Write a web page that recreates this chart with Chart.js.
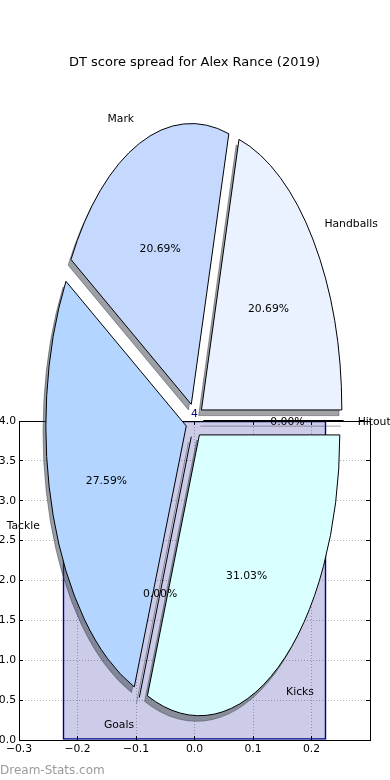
<!DOCTYPE html>
<html>
<head>
<meta charset="utf-8">
<title>DT score spread for Alex Rance (2019)</title>
<script src="https://cdn.jsdelivr.net/npm/chart.js@4.4.0/dist/chart.umd.min.js"></script>
<style>
  html, body { margin: 0; padding: 0; background: #fff; }
  #wrap { position: relative; width: 390px; height: 780px; }
  #wrap canvas { position: absolute; left: 0; top: 0; }
</style>
</head>
<body>
<div id="wrap">
  <canvas id="bars" width="390" height="780"></canvas>
  <canvas id="pie" width="390" height="780"></canvas>
</div>
<script>
// pie slices, in matplotlib order (counter-clockwise from 3 o'clock)
const categories = ['Handballs', 'Mark', 'Tackle', 'Goals', 'Kicks', 'Hitout'];
const scoreCounts = [6, 6, 8, 0, 9, 0];
const sliceColors = ['#eaf1ff', '#c5d9ff', '#b3d5ff', '#cfe3ff', '#d9ffff', '#e3eeff'];
const explode = [0.062, 0.062, 0.062, 0.062, 0.062, 0.062];

// the single bar sitting behind the pie
const barX = [0];
const barHeights = [4];
const barWidth = 0.45;

const xTicks = [-0.3, -0.2, -0.1, 0.0, 0.1, 0.2, 0.3];
const xTickLabels = ['\u22120.3', '\u22120.2', '\u22120.1', '0.0', '0.1', '0.2', ''];
const yTicks = [0, 0.5, 1, 1.5, 2, 2.5, 3, 3.5, 4];
const yTickLabels = ['0.0', '0.5', '1.0', '1.5', '2.0', '2.5', '3.0', '3.5', '4.0'];

const squash = 2;          // pie axes is twice as tall as wide -> ellipse
const shadowShift = 0.02;  // matplotlib Shadow(-0.02, -0.02), radius units

Chart.defaults.font.family = '"DejaVu Sans"';
Chart.defaults.font.size = 10.8;
Chart.defaults.color = '#000';

// strokes are done in the unscaled space so edges stay 1px all round
function flatStroke(ctx, base) {
  return new Proxy(ctx, {
    get(t, p) {
      if (p === 'stroke') return () => { t.save(); t.setTransform(base); t.stroke(); t.restore(); };
      const v = t[p];
      return typeof v === 'function' ? v.bind(t) : v;
    },
    set(t, p, v) { t[p] = v; return true; }
  });
}

function shadowOf(hex) {
  const n = parseInt(hex.slice(1), 16);
  const r = (n >> 16) & 255, g = (n >> 8) & 255, b = n & 255;
  return `rgba(${Math.round(r * 0.3)},${Math.round(g * 0.3)},${Math.round(b * 0.3)},0.5)`;
}

function drawWedge(ctx, arc, expl, fill, edge) {
  const mid = (arc.startAngle + arc.endAngle) / 2;
  const r = arc.outerRadius;
  ctx.translate(Math.cos(mid) * expl * r, Math.sin(mid) * expl * r);
  if (arc.circumference > 0) {
    const twin = Object.create(arc);
    twin.options = Object.assign({}, arc.options, { backgroundColor: fill, borderColor: edge });
    arc.draw.call(twin, ctx);
  } else {
    // empty slice: matplotlib still draws its edge as a line
    ctx.beginPath();
    ctx.moveTo(arc.x, arc.y);
    ctx.lineTo(arc.x + Math.cos(mid) * r, arc.y + Math.sin(mid) * r);
    ctx.lineWidth = arc.options.borderWidth;
    ctx.strokeStyle = edge;
    ctx.stroke();
  }
}

const squashedPie = {
  id: 'squashedPie',
  beforeDatasetsDraw(chart) {
    const ctx = chart.ctx;
    const arcs = chart.getDatasetMeta(0).data;
    const { x: cx, y: cy, outerRadius: r } = arcs[0];
    const pen = flatStroke(ctx, ctx.getTransform());
    const order = arcs.map((a, i) => i).reverse();

    const pass = shadow => order.forEach(i => {
      const k = categories.length - 1 - i;
      ctx.save();
      if (shadow) ctx.translate(-shadowShift * r, shadowShift * r * squash);
      ctx.translate(cx, cy);
      ctx.scale(1, squash);
      ctx.translate(-cx, -cy);
      const col = shadow ? shadowOf(sliceColors[k]) : sliceColors[k];
      drawWedge(pen, arcs[i], explode[k], col, shadow ? col : '#000');
      ctx.restore();
    });
    pass(true);
    pass(false);
    return false;
  },
  afterDraw(chart) {
    const ctx = chart.ctx;
    const arcs = chart.getDatasetMeta(0).data;
    const { x: cx, y: cy, outerRadius: r } = arcs[0];
    const total = scoreCounts.reduce((s, v) => s + v, 0);
    ctx.save();
    ctx.font = '10.8px "DejaVu Sans"';
    ctx.fillStyle = '#000';
    ctx.textBaseline = 'middle';
    arcs.forEach((arc, i) => {
      const k = categories.length - 1 - i;
      const mid = (arc.startAngle + arc.endAngle) / 2;
      const at = d => [cx + Math.cos(mid) * (explode[k] + d) * r,
                       cy + Math.sin(mid) * (explode[k] + d) * r * squash + 1.5];
      const [lx, ly] = at(1.1);
      ctx.textAlign = lx > cx ? 'left' : 'right';
      ctx.fillText(categories[k], lx, ly);
      const [px, py] = at(0.6);
      ctx.textAlign = 'center';
      ctx.fillText((scoreCounts[k] / total * 100).toFixed(2) + '%', px, py);
    });
    ctx.restore();
  }
};

const frame = {
  id: 'frame',
  afterDatasetsDraw(chart) {
    const ctx = chart.ctx;
    const bar = chart.getDatasetMeta(0).data[0];
    ctx.save();
    ctx.font = '10.8px "DejaVu Sans"';
    ctx.fillStyle = '#00008b';
    ctx.textAlign = 'center';
    ctx.textBaseline = 'alphabetic';
    ctx.fillText(String(barHeights[0]), bar.x, bar.y - 4.5);
    ctx.restore();
  },
  afterDraw(chart) {
    const { ctx, chartArea: a, scales: { x, y } } = chart;
    ctx.save();
    ctx.strokeStyle = '#000';
    ctx.lineWidth = 1;
    ctx.beginPath();
    xTicks.forEach(v => {
      const px = Math.round(x.getPixelForValue(v) - 0.5) + 0.5;
      ctx.moveTo(px, a.bottom); ctx.lineTo(px, a.bottom - 4);
      ctx.moveTo(px, a.top); ctx.lineTo(px, a.top + 4);
    });
    yTicks.forEach(v => {
      const py = Math.round(y.getPixelForValue(v) - 0.5) + 0.5;
      ctx.moveTo(a.left, py); ctx.lineTo(a.left + 4, py);
      ctx.moveTo(a.right, py); ctx.lineTo(a.right - 4, py);
    });
    ctx.stroke();
    ctx.strokeRect(Math.round(a.left - 0.5) + 0.5, Math.round(a.top - 0.5) + 0.5,
                   Math.round(a.right - a.left), Math.round(a.bottom - a.top));
    ctx.font = '12px "DejaVu Sans"';
    ctx.fillStyle = '#9a9a9a';
    ctx.textAlign = 'left';
    ctx.fillText('Dream-Stats.com', 0, 774);
    ctx.restore();
  }
};

new Chart(document.getElementById('bars'), {
  type: 'bar',
  data: {
    datasets: [{
      data: barX.map((x, i) => ({ x: x, y: barHeights[i] })),
      backgroundColor: 'rgba(0,0,139,0.2)',
      borderColor: '#00008b',
      borderWidth: 1,
      borderSkipped: false,
      barThickness: c => {
        const s = c.chart.scales.x;
        return s.getPixelForValue(barWidth / 2) - s.getPixelForValue(-barWidth / 2);
      }
    }]
  },
  options: {
    responsive: false,
    devicePixelRatio: 1,
    animation: false,
    events: [],
    layout: { padding: { top: 421, right: 20, left: 0, bottom: 0 } },
    plugins: { legend: { display: false }, tooltip: { enabled: false } },
    scales: {
      x: {
        type: 'linear', min: -0.3, max: 0.3, offset: false, z: 1,
        afterBuildTicks: s => { s.ticks = xTicks.map(v => ({ value: v })); },
        afterFit: s => { s.height = 40; },
        ticks: { callback: (v, i) => xTickLabels[i], padding: 3, maxRotation: 0, autoSkip: false },
        grid: { color: '#b4b4b4', drawTicks: false, offset: false },
        border: { display: false, dash: [1, 2] }
      },
      y: {
        type: 'linear', min: 0, max: 4, z: 1,
        afterBuildTicks: s => { s.ticks = yTicks.map(v => ({ value: v })); },
        afterFit: s => { s.width = 19; },
        ticks: { callback: (v, i) => yTickLabels[i], padding: 3, autoSkip: false },
        grid: { color: '#b4b4b4', drawTicks: false },
        border: { display: false, dash: [1, 2] }
      }
    }
  },
  plugins: [frame]
});

new Chart(document.getElementById('pie'), {
  type: 'pie',
  data: {
    labels: categories.slice().reverse(),
    datasets: [{
      data: scoreCounts.slice().reverse(),
      backgroundColor: sliceColors.slice().reverse(),
      borderColor: '#000',
      borderWidth: 1,
      borderJoinStyle: 'miter'
    }]
  },
  options: {
    responsive: false,
    devicePixelRatio: 1,
    animation: false,
    events: [],
    rotation: 90,
    radius: 140.4,
    layout: { padding: { left: 19, right: 20, top: 0, bottom: 9.6 } },
    plugins: {
      legend: { display: false },
      tooltip: { enabled: false },
      title: {
        display: true,
        text: 'DT score spread for Alex Rance (2019)',
        color: '#000',
        font: { size: 13, weight: 'normal' },
        padding: { top: 55, bottom: 0 }
      }
    }
  },
  plugins: [squashedPie]
});
</script>
</body>
</html>
